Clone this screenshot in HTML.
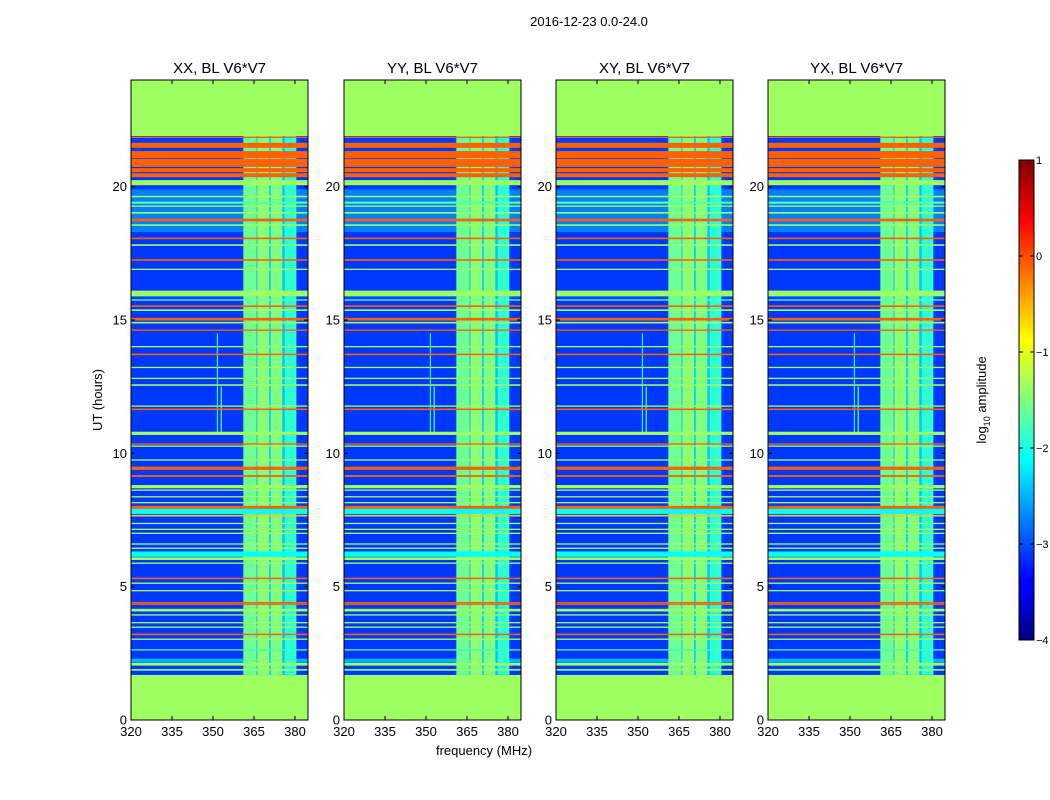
<!DOCTYPE html>
<html><head><meta charset="utf-8">
<style>
html,body{margin:0;padding:0;background:#fff;}
svg{display:block;font-family:"Liberation Sans",sans-serif;}
</style></head>
<body>
<svg id="fig" width="1050" height="800" viewBox="0 0 1050 800" xmlns="http://www.w3.org/2000/svg">
<defs>
<linearGradient id="jet" x1="0" y1="1" x2="0" y2="0">
<stop offset="0" stop-color="#00007f"/><stop offset="0.11" stop-color="#0000ff"/><stop offset="0.125" stop-color="#0000ff"/>
<stop offset="0.375" stop-color="#00ffff"/><stop offset="0.625" stop-color="#ffff00"/><stop offset="0.875" stop-color="#ff0000"/><stop offset="1" stop-color="#7f0000"/>
</linearGradient>
</defs>
<text x="589" y="26" font-size="13" text-anchor="middle">2016-12-23 0.0-24.0</text>
<text transform="translate(102,400) rotate(-90)" font-size="13" text-anchor="middle">UT (hours)</text>
<text x="484" y="755" font-size="13" text-anchor="middle">frequency (MHz)</text>
<g id="panels"></g>
<g>
<rect x="1019" y="160" width="15" height="480" fill="url(#jet)" stroke="#000" stroke-width="1"/>
<g id="cbticks"></g>
<text transform="translate(986,400) rotate(-90)" font-size="13" text-anchor="middle">log<tspan font-size="9" dy="4">10</tspan><tspan dy="-4"> amplitude</tspan></text>
</g>
</svg>
<script>
// ---- data ----
const panelTitles = ["XX, BL V6*V7","YY, BL V6*V7","XY, BL V6*V7","YX, BL V6*V7"];
const yTicks = [0,5,10,15,20];
const xTicks = [320,335,350,365,380];
const cbTicks = [1,0,-1,-2,-3,-4];
const maskedBelow = 1.69, maskedAbove = 21.9, maskedValue = -1.35;
const baseValue = -3.1;
// broad noisy regions [start hour, end hour]
const regionStart = [18.3, 15.86, 2.15];
const regionEnd   = [19.9, 16.1, 2.3];
const regionValue = [-2.75, -2.6, -2.5];
// frequency columns (MHz)
const colStart = [361.1, 366.0, 366.2, 370.5, 371.1, 375.4, 376.2];
const colEnd   = [366.0, 366.2, 370.5, 371.1, 375.4, 376.2, 380.5];
const colValue = [-1.6, -2.4, -1.45, -2.3, -1.5, -2.4, -1.9];
// thin vertical RFI lines
const vlineFreq  = [351.4, 352.8];
const vlineStart = [10.8, 10.8];
const vlineEnd   = [14.5, 12.5];
const vlineValue = [-2.0, -1.6];
// horizontal bands: hour, thickness (hours), value
const bandHours = [21.85,21.55,21.2,20.89,20.62,20.43,20.15,19.63,19.4,19.27,19.02,18.75,18.56,18.06,17.81,17.25,16.9,16.0,15.75,15.52,15.37,15.03,14.9,14.62,14.0,13.71,13.22,12.81,12.56,11.77,11.65,
 10.75,10.35,10.27,9.75,9.44,9.15,8.75,8.62,8.37,8.15,7.97,7.82,7.66,7.37,7.15,7.0,6.6,6.44,6.22,6.05,5.88,5.31,5.13,4.85,4.4,4.34,4.12,3.94,3.65,3.48,3.21,3.03,2.63,2.09,1.88];
const bandWidth = [0.05,0.19,0.27,0.3,0.15,0.15,0.19,0.06,0.08,0.05,0.06,0.1,0.06,0.06,0.06,0.06,0.05,0.2,0.05,0.06,0.06,0.1,0.06,0.05,0.05,0.06,0.05,0.05,0.06,0.05,0.06,
 0.12,0.05,0.05,0.05,0.12,0.07,0.12,0.05,0.05,0.05,0.12,0.2,0.06,0.05,0.05,0.05,0.05,0.05,0.2,0.1,0.05,0.06,0.05,0.05,0.05,0.05,0.1,0.05,0.05,0.05,0.06,0.05,0.05,0.1,0.06];
const bandValue = [-0.1,-0.1,-0.1,-0.1,-0.1,-0.1,-1.35,-1.35,-1.7,-1.35,-1.35,-0.1,-1.35,-0.1,-1.35,-0.1,-1.35,-1.35,-1.6,-0.1,-1.35,-0.1,-1.35,-0.1,-1.35,-0.1,-1.35,-1.35,-1.35,-1.35,-0.1,
 -1.35,-0.1,-1.35,-1.35,-0.1,-0.1,-1.35,-1.35,-1.35,-1.35,-0.1,-2.1,-0.6,-1.35,-1.35,-1.35,-1.35,-1.35,-2.1,-1.35,-1.35,-0.1,-1.35,-1.35,-0.1,-0.1,-1.35,-1.35,-1.35,-1.35,-0.1,-1.35,-1.8,-1.35,-1.35];

// ---- helpers ----
const NS = "http://www.w3.org/2000/svg";
const panelX = [131,344,556,768], PW = 177, PT = 80, PH = 640;
const vmin = -4, vmax = 1;
function jet(v){
  let t = (v - vmin)/(vmax - vmin);
  const c = x => Math.round(255*Math.max(0,Math.min(1,x)));
  return `rgb(${c(1.5-Math.abs(4*t-3))},${c(1.5-Math.abs(4*t-2))},${c(1.5-Math.abs(4*t-1))})`;
}
const fPerPx = 15/41;
function xs(px, f){ return px + (f - 320)/fPerPx; }
function ys(h){ return PT + PH - h*(PH/24); }
function mk(tag, attrs, parent){
  const e = document.createElementNS(NS, tag);
  for (const k in attrs) e.setAttribute(k, attrs[k]);
  parent.appendChild(e); return e;
}
const panels = document.getElementById('panels');
panelX.forEach((px, p) => {
  const g = mk('g', {}, panels);
  
  
  const cp = mk('clipPath', {id:'cp'+p}, g);
  mk('rect', {x:px, y:PT, width:PW, height:PH}, cp);
  const img = mk('g', {'clip-path':'url(#cp'+p+')'}, g);
  
  
  let r = mk('rect', {x:px, y:PT, width:PW, height:PH, fill:jet(maskedValue)}, img);
  
  
  r = mk('rect', {x:px, y:ys(maskedAbove), width:PW, height:ys(maskedBelow)-ys(maskedAbove), fill:jet(baseValue)}, img);
  
  
  regionStart.forEach((s,i) => {
    const e = mk('rect', {x:px, y:ys(regionEnd[i]), width:PW, height:ys(s)-ys(regionEnd[i]), fill:jet(regionValue[i])}, img);
    
    
  });
  colStart.forEach((s,i) => {
    const e = mk('rect', {x:xs(px,s), y:ys(maskedAbove), width:xs(px,colEnd[i])-xs(px,s), height:ys(maskedBelow)-ys(maskedAbove), fill:jet(colValue[i])}, img);
    
    
  });
  vlineFreq.forEach((f,i) => {
    const e = mk('rect', {x:xs(px,f), y:ys(vlineEnd[i]), width:1.2, height:ys(vlineStart[i])-ys(vlineEnd[i]), fill:jet(vlineValue[i])}, img);
    
    
  });
  bandHours.forEach((h,i) => {
    const w = bandWidth[i];
    const e = mk('rect', {x:px, y:ys(h+w/2), width:PW, height:Math.max(1, ys(h-w/2)-ys(h+w/2)), fill:jet(bandValue[i])}, img);
    
    
  });
  const fr = mk('rect', {x:px, y:PT, width:PW, height:PH, fill:'none', stroke:'#000', 'stroke-width':1}, g);
  
  
  const t = mk('text', {x:px+PW/2, y:PT-7, 'font-size':15, 'text-anchor':'middle'}, g);
  t.textContent = panelTitles[p];
  
  
  yTicks.forEach(v => {
    const y = ys(v);
    mk('line', {x1:px, x2:px+4, y1:y, y2:y, stroke:'#000'}, g);
    mk('line', {x1:px+PW-4, x2:px+PW, y1:y, y2:y, stroke:'#000'}, g);
    const l = mk('text', {x:px-4, y:y+4.5, 'font-size':13, 'text-anchor':'end'}, g);
    l.textContent = v;
    
    
  });
  xTicks.forEach(v => {
    const x = xs(px, v);
    mk('line', {x1:x, x2:x, y1:PT+PH, y2:PT+PH-4, stroke:'#000'}, g);
    mk('line', {x1:x, x2:x, y1:PT, y2:PT+4, stroke:'#000'}, g);
    const l = mk('text', {x:x, y:PT+PH+16, 'font-size':13, 'text-anchor':'middle'}, g);
    l.textContent = v;
    
    
  });
});
const cbg = document.getElementById('cbticks');
cbTicks.forEach(v => {
  const y = 160 + (vmax - v)/(vmax - vmin)*480;
  mk('line', {x1:1019, x2:1023, y1:y, y2:y, stroke:'#000'}, cbg);
  mk('line', {x1:1030, x2:1034, y1:y, y2:y, stroke:'#000'}, cbg);
  const l = mk('text', {x:1036, y:y+4, 'font-size':11}, cbg);
  l.textContent = v < 0 ? '\u2212' + (-v) : String(v);
  
  
});
</script>
</body></html>
